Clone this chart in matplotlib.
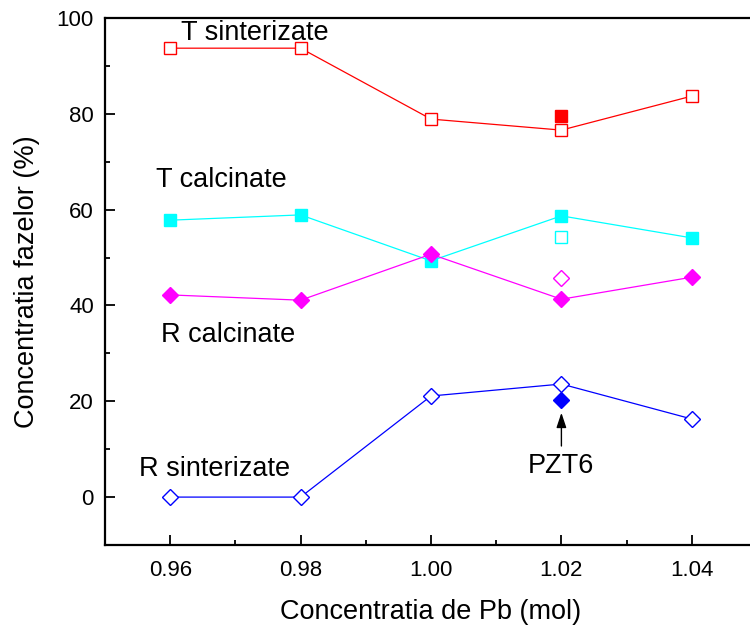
import matplotlib
matplotlib.use("Agg")
import matplotlib.pyplot as plt
from matplotlib.ticker import MultipleLocator

plt.rcParams['font.family'] = ['Liberation Sans', 'DejaVu Sans']

# concentratia de Pb (mol)
pb = [0.96, 0.98, 1.00, 1.02, 1.04]

# faze tetragonale / romboedrice (%)
t_sint = [93.7, 93.7, 78.9, 76.6, 83.7]
t_calc = [57.8, 58.9, 49.3, 58.7, 54.1]
r_calc = [42.2, 41.1, 50.7, 41.3, 45.9]
r_sint = [0.0, 0.0, 21.1, 23.6, 16.3]

# proba PZT6 (x = 1.02), puncte separate
pzt6_x = 1.02
pzt6_t_sint = 79.5
pzt6_t_calc = 54.3
pzt6_r_calc = 45.7
pzt6_r_sint = 20.3

fig = plt.figure(figsize=(7.5, 6.35), dpi=100)
ax = fig.add_axes([105 / 750, 90 / 635, 652 / 750, 527 / 635])

lw = 0.9
ax.plot(pb, t_sint, color='#ff0000', lw=lw, marker='s', ms=8,
        mfc='white', mec='#ff0000', mew=1.0)
ax.plot(pb, t_calc, color='#00ffff', lw=lw, marker='s', ms=8,
        mfc='#00ffff', mec='#00ffff')
ax.plot(pb, r_calc, color='#ff00ff', lw=lw, marker='D', ms=8,
        mfc='#ff00ff', mec='#ff00ff')
ax.plot(pb, r_sint, color='#0000ff', lw=lw, marker='D', ms=8,
        mfc='white', mec='#0000ff', mew=1.0)

ax.plot([pzt6_x], [pzt6_t_sint], ls='none', marker='s', ms=8,
        mfc='#ff0000', mec='#ff0000')
ax.plot([pzt6_x], [pzt6_t_calc], ls='none', marker='s', ms=8,
        mfc='white', mec='#00ffff', mew=1.0)
ax.plot([pzt6_x], [pzt6_r_calc], ls='none', marker='D', ms=8,
        mfc='white', mec='#ff00ff', mew=1.0)
ax.plot([pzt6_x], [pzt6_r_sint], ls='none', marker='D', ms=8,
        mfc='#0000ff', mec='#0000ff')

ax.set_xlim(0.95, 1.05)
ax.set_ylim(-10, 100)
ax.xaxis.set_major_locator(MultipleLocator(0.02))
ax.xaxis.set_minor_locator(MultipleLocator(0.01))
ax.yaxis.set_major_locator(MultipleLocator(20))
ax.yaxis.set_minor_locator(MultipleLocator(10))
ax.xaxis.set_major_formatter(plt.FuncFormatter(lambda v, p: f"{v:.2f}"))

for s in ax.spines.values():
    s.set_linewidth(1.6)
ax.tick_params(which='major', direction='in', length=7, width=1.3,
               labelsize=16)
ax.tick_params(which='minor', direction='in', length=3.8, width=1.3)
ax.tick_params(axis='x', which='major', pad=11)
ax.tick_params(axis='y', which='major', pad=8)

ax.set_xlabel('Concentratia de Pb (mol)', fontsize=19.5, labelpad=13)
ax.set_ylabel('Concentratia fazelor (%)', fontsize=19.5, labelpad=12)

fs = 19.5
ax.text(0.9617, 96.9, 'T sinterizate', fontsize=fs, va='center')
ax.text(0.9578, 66.2, 'T calcinate', fontsize=fs, va='center')
ax.text(0.9586, 33.8, 'R calcinate', fontsize=fs, va='center')
ax.text(0.9552, 5.8, 'R sinterizate', fontsize=fs, va='center')

ax.annotate('PZT6', xy=(pzt6_x, 17.6), xytext=(pzt6_x, 6.5),
            fontsize=fs, ha='center', va='center',
            arrowprops=dict(arrowstyle='-|>,head_length=0.6,head_width=0.2',
                            color='black', lw=1.0, mutation_scale=15,
                            shrinkA=3, shrinkB=0))

fig.savefig('out.png', dpi=100)
